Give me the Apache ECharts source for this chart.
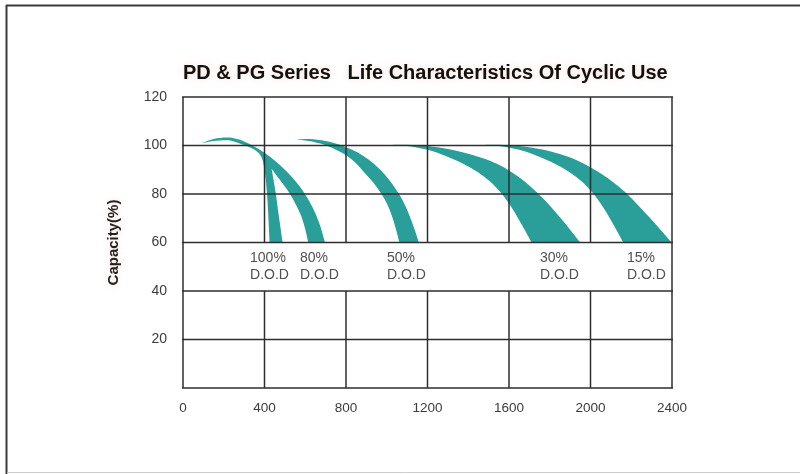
<!DOCTYPE html>
<html>
<head>
<meta charset="utf-8">
<script src="https://cdn.jsdelivr.net/npm/echarts@6/dist/echarts.min.js"></script>
<style>html,body{margin:0;padding:0;background:#fff;}#c{width:800px;height:474px;}</style>
</head>
<body>
<div id="c"></div>
<script>
// ---- data ----
const xTicks = [0, 400, 800, 1200, 1600, 2000, 2400];
const yTicks = [0, 20, 40, 60, 80, 100, 120];
const labelGap = [40, 60];           // row without vertical lines (holds the labels)
const dodNames = ['100%', '80%', '50%', '30%', '15%'];
const dodLabelX = [329, 574, 1001, 1752, 2179];
const dodLabelY = 57;

// 100% + 80% D.O.D (share the top arc)
const arcOuter80 = [[92,101],[150,102.7],[214,103.3],[260,102.8],[300,101.7],[350,99.6],[400,97],[450,93.8],[500,90],[545,86],[585,81.8],[620,77],[650,72],[675,66.5],[697,60]];
const inner80 = [[615,60],[600,65.5],[582,70.5],[558,75],[525,80],[490,84.2],[460,87.5],[435,90.4]];
const right100 = [[435,90.4],[445,85.5],[456,80],[467,73],[478,66.5],[489,60]];
const left100 = [[425,60],[421,67],[417,74],[412,80.5],[406,86],[398,91],[388,94.6],[370,97],[340,98.8],[300,100.2],[250,101.7],[214,102.2],[150,101.9],[92,101]];
// 50% D.O.D
const outer50 = [[548,102.5],[620,102.7],[700,101.9],[770,100.3],[830,98.2],[885,95.7],[935,92.6],[980,89],[1020,85],[1057,80.4],[1085,76.2],[1110,71.4],[1135,65.8],[1158,60]];
const inner50 = [[1062,60],[1045,65.5],[1025,71],[1000,76.2],[970,80.5],[935,84.6],[895,88.4],[850,92.6],[800,96],[745,98.5],[690,100.4],[620,101.9],[548,102.5]];
// 30% D.O.D
const outer30 = [[990,100.3],[1100,100.3],[1200,99.8],[1300,98.6],[1400,96.6],[1480,94.5],[1560,91.6],[1630,88],[1690,84.2],[1745,80],[1800,75.3],[1850,70.4],[1900,65.3],[1950,60]];
const inner30 = [[1711,60],[1665,67],[1620,73.5],[1575,79],[1530,83.3],[1480,87],[1420,90.4],[1350,93.5],[1280,96],[1200,98.2],[1100,99.8],[990,100.3]];
// 15% D.O.D
const outer15 = [[1440,100.3],[1550,100.3],[1650,99.8],[1750,98.6],[1850,96.5],[1930,94],[2010,90.5],[2080,86.8],[2130,83.6],[2180,80],[2235,75.3],[2290,70.3],[2345,65.2],[2398,60]];
const inner15 = [[2161,60],[2115,67],[2070,73.5],[2025,79],[1980,83.3],[1930,87],[1870,90.4],[1800,93.5],[1730,96],[1650,98.2],[1550,99.8],[1440,100.3]];

const bands = [
  [arcOuter80, inner80, right100, left100],
  [outer50, inner50],
  [outer30, inner30],
  [outer15, inner15]
];

const TEAL = '#2a9f9a';
const LINE = '#2e2e2e';
const FONT = '"Liberation Sans", Arial, sans-serif';

function bandPath(edges, api) {
  let d = '';
  edges.forEach(function (edge, ei) {
    const p = edge.map(function (v) { return api.coord(v); });
    d += (ei === 0 ? 'M' : 'L') + p[0][0].toFixed(2) + ' ' + p[0][1].toFixed(2);
    for (let i = 0; i < p.length - 1; i++) {
      const p0 = p[i - 1] || p[i], p1 = p[i], p2 = p[i + 1], p3 = p[i + 2] || p[i + 1];
      const c1x = p1[0] + (p2[0] - p0[0]) / 6, c1y = p1[1] + (p2[1] - p0[1]) / 6;
      const c2x = p2[0] - (p3[0] - p1[0]) / 6, c2y = p2[1] - (p3[1] - p1[1]) / 6;
      d += 'C' + c1x.toFixed(2) + ' ' + c1y.toFixed(2) + ' ' + c2x.toFixed(2) + ' ' + c2y.toFixed(2) + ' ' + p2[0].toFixed(2) + ' ' + p2[1].toFixed(2);
    }
  });
  return d + 'Z';
}

const chart = echarts.init(document.getElementById('c'), null, {renderer: 'canvas'});
chart.setOption({
  animation: false,
  backgroundColor: '#ffffff',
  title: {
    text: 'PD & PG Series   Life Characteristics Of Cyclic Use',
    left: 178, top: 58,
    textStyle: {
      color: '#111', fontSize: 20, fontWeight: 'bold', fontFamily: FONT,
      textShadowColor: 'rgba(255,170,130,0.35)', textShadowBlur: 6
    }
  },
  graphic: [
    {type: 'line', shape: {x1: 6, y1: 5.5, x2: 800, y2: 5.5}, style: {stroke: '#3a3a3a', lineWidth: 2}, silent: true},
    {type: 'line', shape: {x1: 6.5, y1: 5, x2: 6.5, y2: 474}, style: {stroke: '#3a3a3a', lineWidth: 2}, silent: true},
    {type: 'line', shape: {x1: 7, y1: 472.5, x2: 800, y2: 472.5}, style: {stroke: '#cccccc', lineWidth: 1}, silent: true}
  ],
  grid: {left: 183, right: 128, top: 97, bottom: 86},
  xAxis: {
    type: 'value', min: 0, max: 2400, interval: 400,
    axisLine: {show: false}, axisTick: {show: false}, splitLine: {show: false},
    axisLabel: {color: '#3c3c3c', fontSize: 13.5, fontFamily: FONT, margin: 13,
      formatter: function (v) { return String(v); }}
  },
  yAxis: {
    type: 'value', min: 0, max: 120, interval: 20,
    name: 'Capacity(%)', nameLocation: 'middle', nameGap: 62, nameRotate: 90,
    nameTextStyle: {color: '#222', fontSize: 15, fontWeight: 'bold', fontFamily: FONT,
      textShadowColor: 'rgba(255,170,130,0.35)', textShadowBlur: 6},
    axisLine: {show: false}, axisTick: {show: false}, splitLine: {show: false},
    axisLabel: {color: '#3c3c3c', fontSize: 14, fontFamily: FONT, margin: 16,
      formatter: function (v) { return v === 0 ? '' : String(v); }}
  },
  series: [
    {
      type: 'custom', z: 2, silent: true,
      data: bands.map(function (b, i) { return [i, 0]; }),
      renderItem: function (params, api) {
        return {type: 'path', shape: {pathData: bandPath(bands[params.dataIndex], api)}, style: {fill: TEAL, stroke: null}};
      }
    },
    {
      type: 'custom', z: 5, silent: true,
      data: [[0, 0]],
      renderItem: function (params, api) {
        const children = [];
        const xmin = xTicks[0], xmax = xTicks[xTicks.length - 1];
        const ymin = yTicks[0], ymax = yTicks[yTicks.length - 1];
        yTicks.forEach(function (y) {
          const a = api.coord([xmin, y]), b = api.coord([xmax, y]);
          children.push({type: 'line', shape: {x1: a[0] - 1, y1: a[1], x2: b[0] + 1, y2: b[1]}, style: {stroke: LINE, lineWidth: 1.5}});
        });
        xTicks.forEach(function (x, i) {
          const full = (i === 0 || i === xTicks.length - 1);
          const segs = full ? [[ymin, ymax]] : [[ymin, labelGap[0]], [labelGap[1], ymax]];
          segs.forEach(function (s) {
            const a = api.coord([x, s[0]]), b = api.coord([x, s[1]]);
            children.push({type: 'line', shape: {x1: a[0], y1: a[1], x2: b[0], y2: b[1]}, style: {stroke: LINE, lineWidth: 1.5}});
          });
        });
        return {type: 'group', children: children};
      }
    },
    {
      type: 'custom', z: 6, silent: true,
      data: dodNames.map(function (n, i) { return [dodLabelX[i], dodLabelY]; }),
      renderItem: function (params, api) {
        const p = api.coord([api.value(0), api.value(1)]);
        return {
          type: 'text',
          style: {
            text: dodNames[params.dataIndex] + '\nD.O.D',
            x: p[0], y: p[1], fill: '#505050', fontSize: 14, fontFamily: FONT,
            align: 'left', verticalAlign: 'top', lineHeight: 17
          }
        };
      }
    }
  ]
});
</script>
</body>
</html>
